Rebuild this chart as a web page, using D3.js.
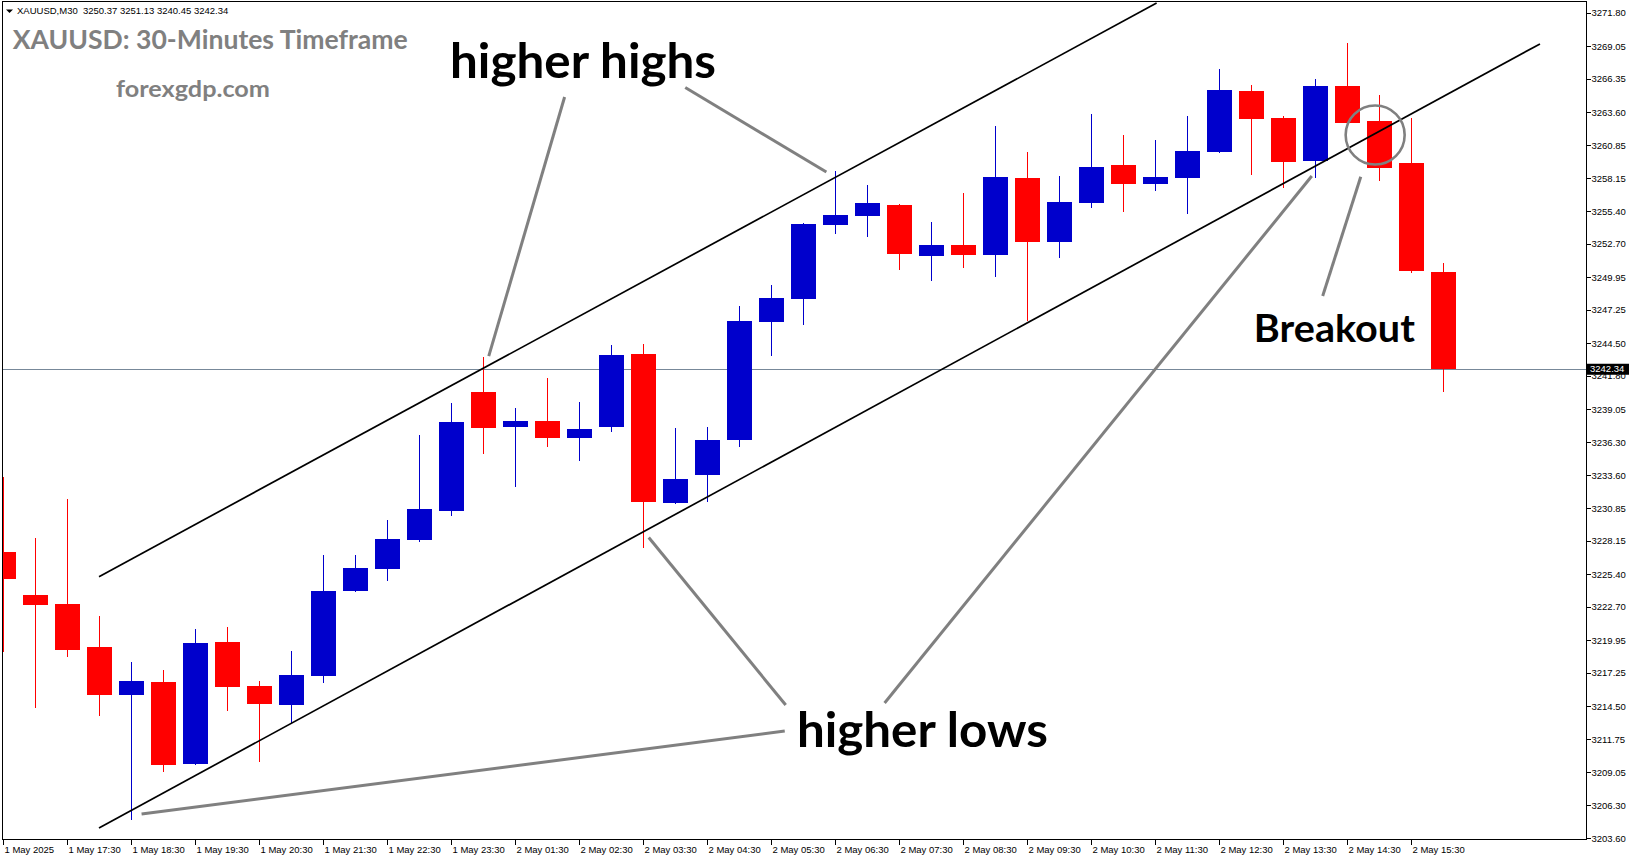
<!DOCTYPE html>
<html><head><meta charset="utf-8">
<script src="https://cdn.jsdelivr.net/npm/d3@7/dist/d3.min.js"></script>
<style>html,body{margin:0;padding:0;background:#fff;overflow:hidden}</style>
</head><body>
<svg id="chart" width="1631" height="861"></svg>
<script>
// ---------- DATA ----------
const times = ["1 May 16:30","1 May 17:00","1 May 17:30","1 May 18:00","1 May 18:30","1 May 19:00","1 May 19:30","1 May 20:00","1 May 20:30","1 May 21:00","1 May 21:30","1 May 22:00","1 May 22:30","1 May 23:00","1 May 23:30","2 May 01:00","2 May 01:30","2 May 02:00","2 May 02:30","2 May 03:00","2 May 03:30","2 May 04:00","2 May 04:30","2 May 05:00","2 May 05:30","2 May 06:00","2 May 06:30","2 May 07:00","2 May 07:30","2 May 08:00","2 May 08:30","2 May 09:00","2 May 09:30","2 May 10:00","2 May 10:30","2 May 11:00","2 May 11:30","2 May 12:00","2 May 12:30","2 May 13:00","2 May 13:30","2 May 14:00","2 May 14:30","2 May 15:00","2 May 15:30","2 May 16:00"];
const openP  = [3227.24,3223.68,3222.94,3219.39,3215.42,3216.49,3209.74,3219.80,3216.16,3214.59,3216.99,3224.01,3225.83,3228.23,3230.62,3240.46,3237.57,3238.06,3236.68,3237.59,3243.60,3231.31,3233.62,3236.52,3246.24,3248.15,3254.26,3255.00,3255.91,3251.70,3252.61,3251.78,3258.15,3252.86,3256.08,3259.22,3257.65,3258.15,3260.29,3265.34,3263.10,3259.55,3265.75,3262.86,3259.39,3250.37];
const highP  = [3233.41,3228.39,3231.62,3221.95,3218.15,3217.48,3220.87,3221.04,3216.58,3219.05,3226.99,3226.99,3229.88,3236.91,3239.58,3243.38,3239.14,3241.62,3239.63,3244.34,3244.43,3237.48,3237.57,3247.57,3249.30,3254.40,3258.72,3257.57,3256.00,3254.51,3256.91,3262.44,3260.29,3258.31,3263.43,3261.70,3261.29,3263.27,3267.15,3265.83,3263.27,3266.33,3269.30,3265.00,3263.10,3251.13];
const lowP   = [3218.97,3214.37,3218.58,3213.68,3205.09,3209.08,3209.60,3214.10,3209.91,3213.08,3216.41,3223.93,3224.84,3228.09,3230.21,3235.34,3232.63,3235.94,3234.78,3237.18,3227.54,3231.20,3231.39,3235.94,3243.43,3245.96,3253.52,3253.30,3250.54,3249.63,3250.71,3249.96,3246.33,3251.53,3255.67,3255.34,3257.07,3255.17,3260.20,3258.39,3257.32,3258.15,3262.60,3257.90,3250.29,3240.45];
const closeP = [3225.03,3222.88,3219.14,3215.42,3216.58,3209.66,3219.72,3216.08,3214.67,3217.07,3224.01,3225.91,3228.31,3230.79,3237.98,3237.48,3238.06,3236.68,3237.40,3243.52,3231.39,3233.27,3236.49,3246.33,3248.23,3254.34,3255.09,3256.08,3251.86,3252.61,3251.78,3258.23,3252.86,3256.16,3259.05,3257.65,3258.23,3260.38,3265.42,3263.02,3259.47,3265.75,3262.69,3258.97,3250.46,3242.34];

const priceTicks = [3271.80,3269.05,3266.35,3263.60,3260.85,3258.15,3255.40,3252.70,3249.95,3247.25,3244.50,3241.80,3239.05,3236.30,3233.60,3230.85,3228.15,3225.40,3222.70,3219.95,3217.25,3214.50,3211.75,3209.05,3206.30,3203.60];
const timeTickIdx = [0,2,4,6,8,10,12,14,16,18,20,22,24,26,28,30,32,34,36,38,40,42,44];
const timeTickLabels = ["1 May 2025","1 May 17:30","1 May 18:30","1 May 19:30","1 May 20:30","1 May 21:30","1 May 22:30","1 May 23:30","2 May 01:30","2 May 02:30","2 May 03:30","2 May 04:30","2 May 05:30","2 May 06:30","2 May 07:30","2 May 08:30","2 May 09:30","2 May 10:30","2 May 11:30","2 May 12:30","2 May 13:30","2 May 14:30","2 May 15:30"];

const headerText = "XAUUSD,M30  3250.37 3251.13 3240.45 3242.34";
const titleText = "XAUUSD: 30-Minutes Timeframe";
const siteText = "forexgdp.com";
const lastPrice = 3242.34;

// channel lines [barIndex1, price1, barIndex2, price2]
const channelLines = [[3,3225.2,36.05,3272.6],[3,3204.43,48.03,3269.23]];
// grey pointer lines [barIndex1, price1, barIndex2, price2]
const pointerLines = [
  [17.55,3264.84,15.18,3243.43],
  [21.32,3265.63,25.73,3258.64],
  [24.43,3212.44,4.33,3205.58],
  [24.46,3214.59,20.18,3228.43],
  [27.55,3214.76,40.90,3258.31],
  [41.24,3248.39,42.43,3258.25]
];
const breakoutCircle = [42.88,3261.7];
// annotation labels
const annText = ["higher highs","higher lows","Breakout"];
const annIdx = [13.97,24.81,39.09];
const annPrice = [3266.41,3211.12,3244.62];

// ---------- DRAW ----------
(function(){
const svg = d3.select("#chart");
const W = 1631, H = 861;
const pL = 3, pR = 1586.5, pT = 2, pB = 840;
const x = d3.scaleLinear().domain([0, times.length-1]).range([3, 3 + 32*(times.length-1)]);
const y = d3.scaleLinear().domain([3203.6, 3271.8]).range([838, 12.8]);
const font = "'Liberation Sans', Arial, sans-serif";
const bold = "Lato, 'Open Sans', sans-serif";

svg.append("rect").attr("width",W).attr("height",H).attr("fill","#fff");
svg.append("defs").append("clipPath").attr("id","plot")
  .append("rect").attr("x",pL).attr("y",pT).attr("width",pR-pL).attr("height",pB-pT);

const plot = svg.append("g").attr("clip-path","url(#plot)");

// current price line
const ly = y(lastPrice);
plot.append("line").attr("x1",pL).attr("x2",pR).attr("y1",Math.round(ly)+0.5).attr("y2",Math.round(ly)+0.5)
  .attr("stroke","#778899").attr("stroke-width",1);

const candles = times.map((t,i)=>({i,o:openP[i],h:highP[i],l:lowP[i],c:closeP[i]}));
const col = d => d.c >= d.o ? "#0000CC" : "#FF0000";
const cg = plot.append("g").attr("shape-rendering","crispEdges");
cg.selectAll("line.w").data(candles).join("line").attr("class","w")
  .attr("x1",d=>Math.round(x(d.i))+0.5).attr("x2",d=>Math.round(x(d.i))+0.5)
  .attr("y1",d=>y(d.h)).attr("y2",d=>y(d.l)).attr("stroke",col).attr("stroke-width",1);
cg.selectAll("rect.b").data(candles).join("rect").attr("class","b")
  .attr("x",d=>Math.round(x(d.i))-12).attr("width",25)
  .attr("y",d=>y(Math.max(d.o,d.c))).attr("height",d=>Math.max(1,Math.abs(y(d.o)-y(d.c))))
  .attr("fill",col);

// channel lines
plot.selectAll("line.ch").data(channelLines).join("line").attr("class","ch")
  .attr("x1",d=>x(d[0])).attr("y1",d=>y(d[1])).attr("x2",d=>x(d[2])).attr("y2",d=>y(d[3]))
  .attr("stroke","#000").attr("stroke-width",1.7);

// pointers
plot.selectAll("line.pt").data(pointerLines).join("line").attr("class","pt")
  .attr("x1",d=>x(d[0])).attr("y1",d=>y(d[1])).attr("x2",d=>x(d[2])).attr("y2",d=>y(d[3]))
  .attr("stroke","#808080").attr("stroke-width",3);
plot.append("circle").attr("cx",x(breakoutCircle[0])).attr("cy",y(breakoutCircle[1])).attr("r",29.5)
  .attr("fill","none").attr("stroke","#808080").attr("stroke-width",2.6);

// annotation labels
const annWidths = [266,251,161];
const annSizes = [47,47,38];
annText.forEach((t,k)=>{
  plot.append("text").attr("x",x(annIdx[k])).attr("y",y(annPrice[k]))
    .attr("font-family",bold).attr("font-weight","bold").attr("font-size",annSizes[k])
    .attr("fill","#000").attr("textLength",annWidths[k]).attr("lengthAdjust","spacingAndGlyphs").text(t);
});

// title & site
plot.append("text").attr("x",12.7).attr("y",49.3).attr("font-family",bold).attr("font-weight","bold")
  .attr("font-size",26).attr("fill","#808080").attr("textLength",395).attr("lengthAdjust","spacingAndGlyphs").text(titleText);
plot.append("text").attr("x",116).attr("y",97.3).attr("font-family",bold).attr("font-weight","bold")
  .attr("font-size",23).attr("fill","#808080").attr("textLength",154).attr("lengthAdjust","spacingAndGlyphs").text(siteText);

// header
plot.append("path").attr("d","M6,9.5 L13,9.5 L9.5,13 Z").attr("fill","#000");
plot.append("text").attr("x",17).attr("y",14).attr("font-family",font).attr("font-size",9.5).attr("fill","#000")
  .style("white-space","pre").text(headerText);

// frame
svg.append("rect").attr("x",2.5).attr("y",1.5).attr("width",pR-2.5).attr("height",838)
  .attr("fill","none").attr("stroke","#000").attr("stroke-width",1).attr("shape-rendering","crispEdges");

// y axis
const ya = svg.append("g").attr("transform",`translate(${pR},0)`)
  .call(d3.axisRight(y).tickValues(priceTicks).tickSize(4).tickPadding(1).tickFormat(d3.format(".2f")));
ya.select(".domain").remove();
ya.selectAll("line").attr("stroke","#000").attr("shape-rendering","crispEdges");
ya.selectAll("text").attr("font-family",font).attr("font-size",9.5).attr("fill","#000");

// current price box (covers the nearby tick label, as in the terminal)
svg.append("rect").attr("x",pR+0.5).attr("y",ly-5.5).attr("width",42).attr("height",11).attr("fill","#000");
svg.append("text").attr("x",pR+3.5).attr("y",ly).attr("dy","0.34em").attr("font-family",font).attr("font-size",9.5)
  .attr("fill","#fff").text(d3.format(".2f")(lastPrice));

// x axis
const xa = svg.append("g").attr("transform",`translate(0,${pB})`)
  .call(d3.axisBottom(x).tickValues(timeTickIdx).tickSize(5).tickFormat((d,k)=>timeTickLabels[k]));
xa.select(".domain").remove();
xa.selectAll(".tick").attr("transform",d=>`translate(${Math.round(x(d))+0.5},0)`);
xa.selectAll("line").attr("stroke","#000").attr("shape-rendering","crispEdges");
xa.selectAll("text").attr("font-family",font).attr("font-size",9.5).attr("fill","#000")
  .attr("text-anchor","start").attr("x",1).attr("y",6).attr("dy","0.71em");
})();
</script>
</body></html>
